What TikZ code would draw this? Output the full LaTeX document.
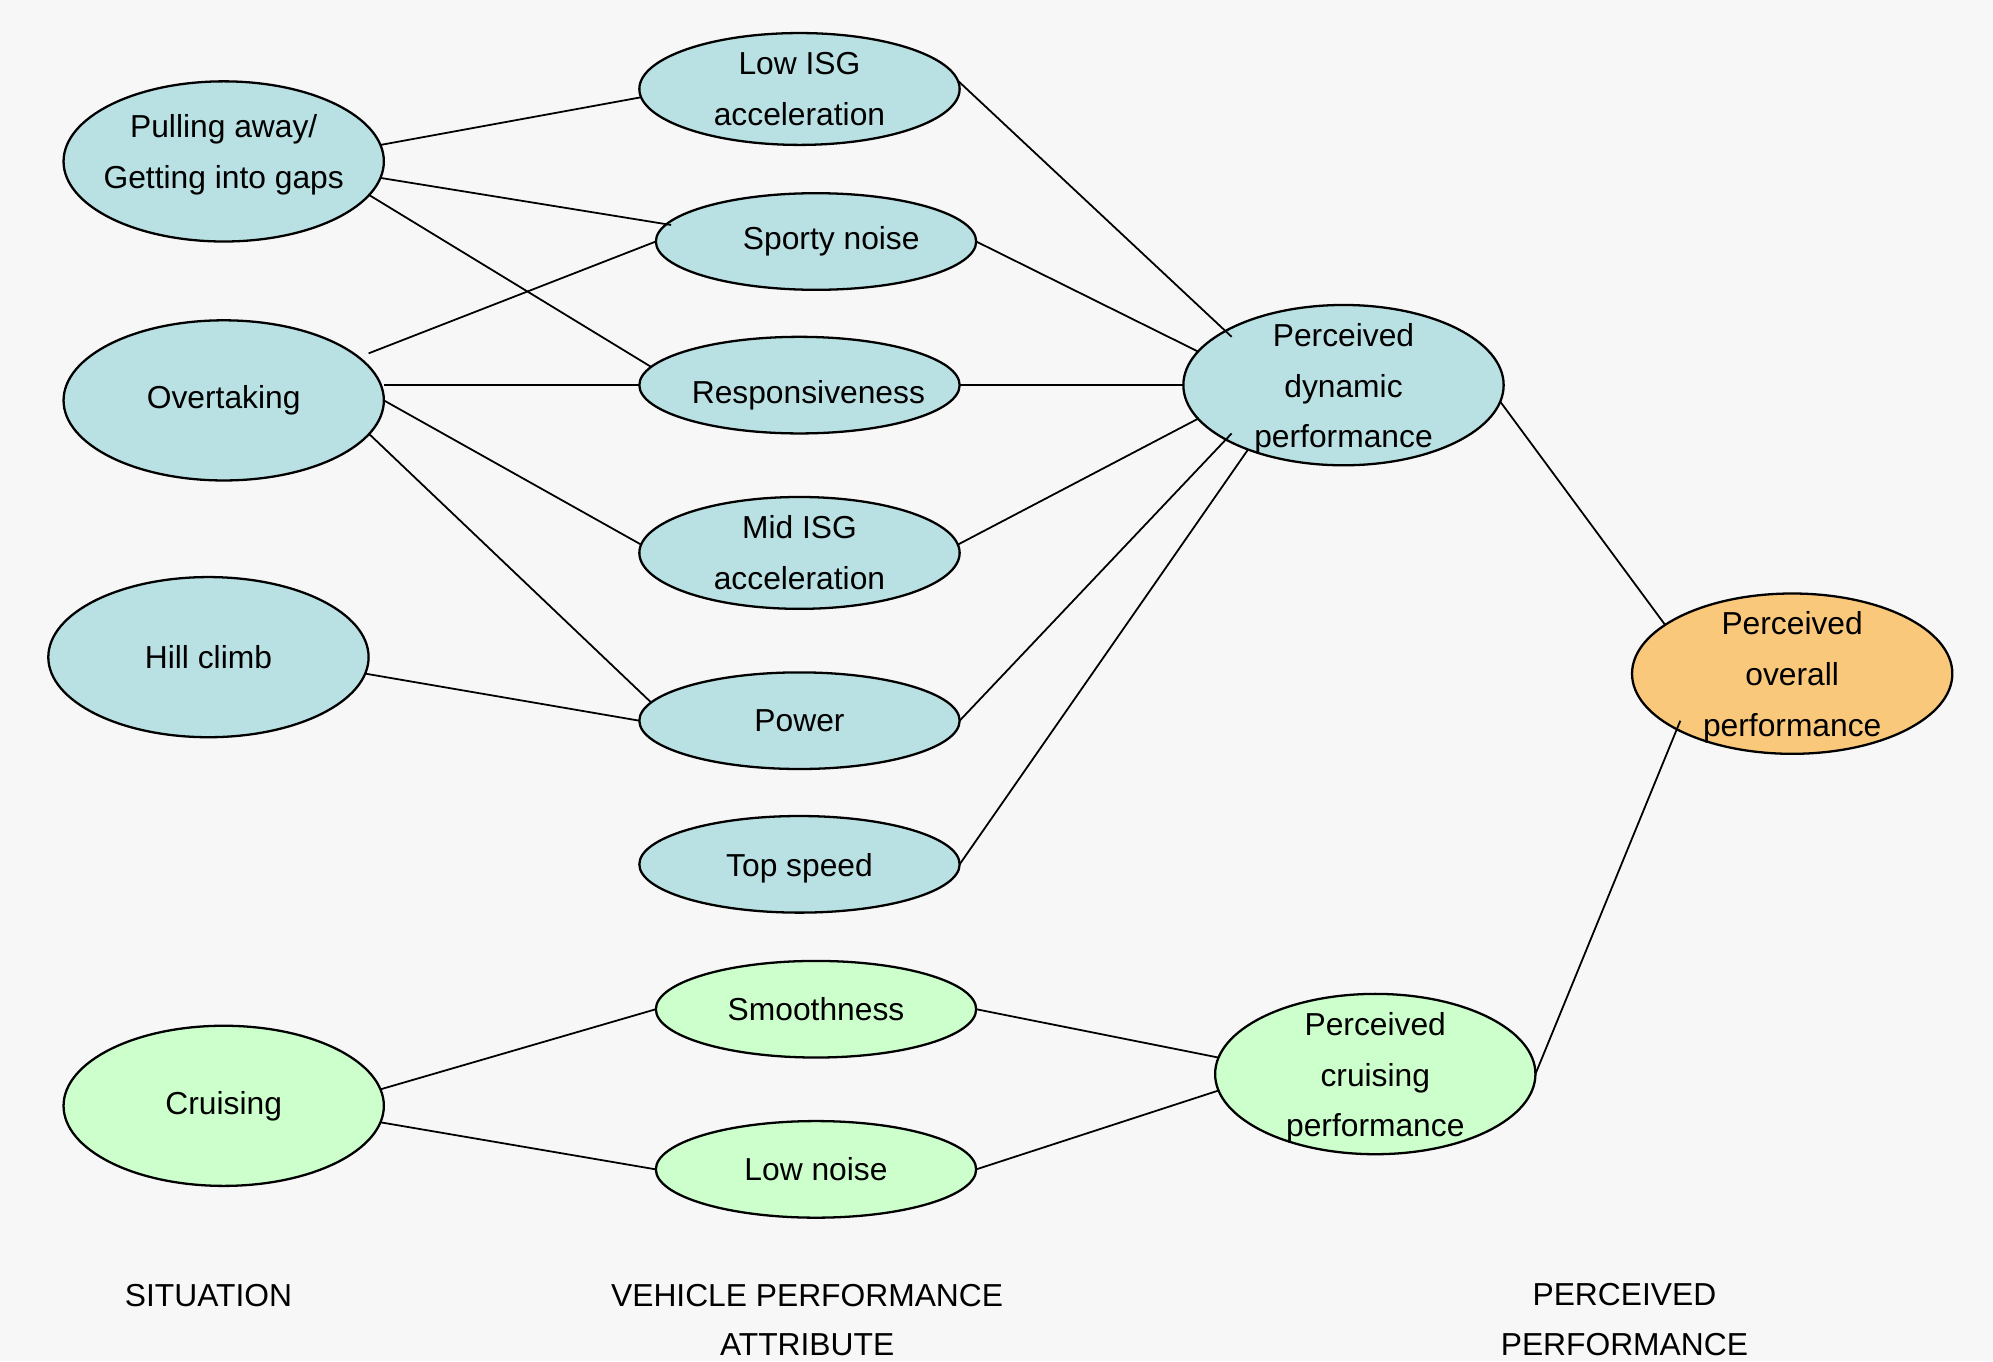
\documentclass[tikz,border=0pt]{standalone}
\usepackage{fontspec}
\setmainfont{Liberation Sans}
\usepackage{tikz}
\usetikzlibrary{shapes.geometric}
\definecolor{bgcol}{HTML}{F7F7F7}
\definecolor{dynblue}{HTML}{B9E0E3}
\definecolor{cruisegreen}{HTML}{CCFFCC}
\definecolor{overallorange}{HTML}{FAC87A}

\tikzset{
    bubble/.style={ellipse, draw, line width=0.9pt, inner sep=-5pt, outer sep=0pt, align=center, font=\fontsize{12.5}{20}\selectfont},
    situ/.style={bubble, minimum width=126pt, minimum height=63pt},
    attr/.style={bubble, minimum width=126pt, minimum height=38pt},
    attrtall/.style={attr, minimum height=44pt},
    heading/.style={align=center, font=\fontsize{12.5}{19.5}\selectfont},
    link/.style={line width=0.7pt}
}

\begin{document}
\begin{tikzpicture}[x=0.5pt,y=-0.5pt]
    \fill[bgcol] (0,0) rectangle (1568,1071);
    \useasboundingbox (0,0) rectangle (1568,1071);

    % situations
    \node(pull)[situ,fill=dynblue] at (176,127) {Pulling away/\\Getting into gaps\rule[-7.5pt]{0pt}{0pt}};
    \node(over)[situ,fill=dynblue] at (176,315) {Overtaking};
    \node(hill)[situ,fill=dynblue] at (164,517) {Hill climb};
    \node(cruise)[situ,fill=cruisegreen] at (176,870) {Cruising};

    % attributes
    \node(lowisg)[attrtall,fill=dynblue] at (629,70) {Low ISG\\acceleration};
    \node(sporty)[attr,fill=dynblue] at (642,190) {\hspace*{12pt}Sporty noise};
    \node(resp)[attr,fill=dynblue] at (629,303) {\hspace*{7pt}\rule{0pt}{17pt}Responsiveness};
    \node(midisg)[attrtall,fill=dynblue] at (629,435) {Mid ISG\\acceleration};
    \node(power)[attr,fill=dynblue] at (629,567) {Power};
    \node(topspeed)[attr,fill=dynblue] at (629,680) {\rule{0pt}{12pt}Top speed};
    \node(smooth)[attr,fill=cruisegreen] at (642,794) {Smoothness};
    \node(lownoise)[attr,fill=cruisegreen] at (642,920) {Low noise};

    % perceived
    \node(dyn)[situ,fill=dynblue] at (1057,303) {\rule{0pt}{12pt}Perceived\\dynamic\\performance};
    \node(cperf)[situ,fill=cruisegreen] at (1082,845) {\rule{0pt}{12pt}Perceived\\cruising\\performance};
    \node(overall)[situ,fill=overallorange] at (1410,530) {\rule{0pt}{12pt}Perceived\\overall\\performance};

    \node(sit)[heading] at (164,1019) {SITUATION};
    \node(vpa)[heading] at (635,1038.5) {VEHICLE PERFORMANCE\\ATTRIBUTE};
    \node(pp)[heading] at (1278,1038) {PERCEIVED\\PERFORMANCE};

    \draw[link] (pull.6)--(lowisg.183);
    \draw[link] (pull.-6)--([shift={(-114,-13)}]sporty.center);
    \draw[link] (pull.-13)--(resp.173);
    \draw[link] ([shift={(114,-37)}]over.center)--(sporty.west);
    \draw[link] (resp.west -| over.east)--(resp.west);
    \draw[link] (over.east)--(midisg.177);
    \draw[link] (over.-13)--(power.173);
    \draw[link] (hill.-6)--(power.west);

    \draw[link] (lowisg.3)--([shift={(-88,-38)}]dyn.center);
    \draw[link] (sporty.east)--(dyn.167);
    \draw[link] (resp.east)--(dyn.west);
    \draw[link] (midisg.3)--(dyn.193);
    \draw[link] (power.east)--([shift={(-88,38)}]dyn.center);
    \draw[link] (topspeed.east)--(dyn.214);
    \draw[link] (dyn.-6)--(overall.159);

    \draw[link] (cruise.6)--(smooth.west);
    \draw[link] (cruise.-6)--(lownoise.west);
    \draw[link] (smooth.east)--(cperf.174);
    \draw[link] (lownoise.east)--(cperf.186);
    \draw[link] (cperf.east)--([shift={(-88,37)}]overall.center);
\end{tikzpicture}
\end{document}
